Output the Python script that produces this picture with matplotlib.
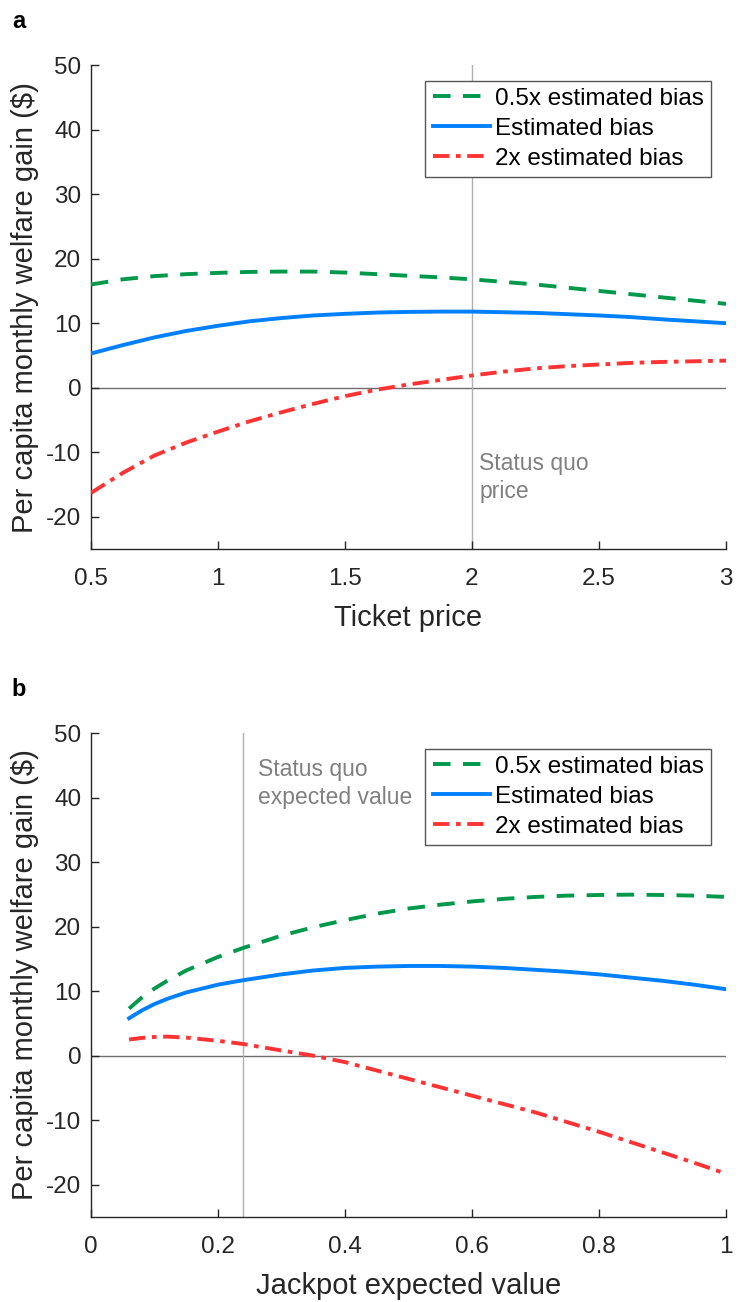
import matplotlib.pyplot as plt

plt.rcParams['font.family'] = ['Liberation Sans', 'DejaVu Sans']
plt.rcParams['axes.unicode_minus'] = False

# painel a: preço do bilhete
preco = [0.5, 0.625, 0.75, 0.875, 1.0, 1.125, 1.25, 1.375, 1.5, 1.625, 1.75, 1.875, 2.0,
         2.125, 2.25, 2.375, 2.5, 2.625, 2.75, 2.875, 3.0]
a_metade = [16.0, 16.8, 17.3, 17.6, 17.8, 17.95, 18.0, 18.0, 17.85, 17.6, 17.35, 17.1, 16.8,
            16.4, 16.0, 15.5, 15.0, 14.5, 14.0, 13.5, 13.0]
a_estimado = [5.3, 6.6, 7.8, 8.8, 9.6, 10.3, 10.8, 11.2, 11.45, 11.65, 11.75, 11.8, 11.8,
              11.7, 11.6, 11.4, 11.2, 10.95, 10.6, 10.3, 10.0]
a_dobro = [-16.3, -13.2, -10.5, -8.5, -6.8, -5.2, -3.8, -2.5, -1.3, -0.3, 0.5, 1.2, 1.9,
           2.5, 3.0, 3.35, 3.6, 3.85, 4.0, 4.1, 4.2]

# painel b: valor esperado do jackpot
jackpot = [0.06, 0.08, 0.1, 0.12, 0.15, 0.2, 0.24, 0.3, 0.35, 0.4, 0.45, 0.5, 0.55, 0.6,
           0.65, 0.7, 0.75, 0.8, 0.85, 0.9, 0.95, 1.0]
b_metade = [7.3, 9.0, 10.4, 11.6, 13.2, 15.3, 16.7, 18.6, 19.9, 21.0, 22.0, 22.8, 23.4, 23.9,
            24.3, 24.6, 24.8, 24.9, 24.95, 24.9, 24.8, 24.6]
b_estimado = [5.8, 7.0, 8.0, 8.8, 9.8, 11.0, 11.7, 12.6, 13.2, 13.6, 13.8, 13.9, 13.9, 13.8,
              13.6, 13.3, 13.0, 12.6, 12.1, 11.6, 11.0, 10.3]
b_dobro = [2.5, 2.75, 2.9, 2.95, 2.8, 2.3, 1.8, 0.8, 0.0, -1.0, -2.3, -3.6, -4.9, -6.2,
           -7.5, -8.8, -10.3, -11.8, -13.4, -15.0, -16.6, -18.3]

legendas = ['0.5x estimated bias', 'Estimated bias', '2x estimated bias']
verde = '#00994C'
azul = '#0080FF'
vermelho = '#FF3333'
cinza = '#808080'
escuro = '#262626'


def desenhaPainel(ax, x, metade, estimado, dobro, xlim, xticks, xlabel, status_x):
    ax.axhline(0, color='#707070', lw=1.0, zorder=1)
    ax.axvline(status_x, color='#b0b0b0', lw=1.0, zorder=1)
    ax.plot(x, metade, color=verde, lw=2.8, ls=(0, (4.5, 3.2)), label=legendas[0], zorder=3)
    ax.plot(x, estimado, color=azul, lw=2.8, ls='-', label=legendas[1], zorder=3)
    ax.plot(x, dobro, color=vermelho, lw=2.8, ls=(0, (4.2, 1.7, 1.2, 1.7)), label=legendas[2], zorder=3)
    ax.set_xlim(xlim)
    ax.set_ylim(-25, 50)
    ax.set_xticks(xticks)
    ax.set_xticklabels([f'{t:g}' for t in xticks])
    ax.set_yticks([-20, -10, 0, 10, 20, 30, 40, 50])
    ax.spines['top'].set_visible(False)
    ax.spines['right'].set_visible(False)
    for s in ['left', 'bottom']:
        ax.spines[s].set_color(escuro)
        ax.spines[s].set_linewidth(1.0)
    ax.tick_params(direction='in', length=6, width=1.0, labelsize=17.5, colors=escuro)
    ax.tick_params(axis='x', pad=14)
    ax.tick_params(axis='y', pad=7)
    ax.set_xlabel(xlabel, fontsize=21, color=escuro, labelpad=10)
    ax.set_ylabel('Per capita monthly welfare gain ($)', fontsize=21, color=escuro, labelpad=5)
    leg = ax.legend(loc='upper right', bbox_to_anchor=(0.976, 0.968), fontsize=17.5,
                    handlelength=2.35, handletextpad=0.2, borderpad=0.3, labelspacing=0.33,
                    borderaxespad=0, fancybox=False, framealpha=1, edgecolor='#555555')
    leg.get_frame().set_linewidth(1.0)
    for t in leg.get_texts():
        t.set_color('black')


fig = plt.figure(figsize=(7.36, 13.02), dpi=100)
ax1 = fig.add_axes([0.1236, 0.5783, 0.8628, 0.3717])
ax2 = fig.add_axes([0.1236, 0.0653, 0.8628, 0.3717])

desenhaPainel(ax1, preco, a_metade, a_estimado, a_dobro, (0.5, 3),
              [0.5, 1, 1.5, 2, 2.5, 3], 'Ticket price', 2)
ax1.text(2.028, -13.9, 'Status quo\nprice', color=cinza, fontsize=16.5, va='center', ha='left',
         linespacing=1.3)

desenhaPainel(ax2, jackpot, b_metade, b_estimado, b_dobro, (0, 1),
              [0, 0.2, 0.4, 0.6, 0.8, 1], 'Jackpot expected value', 0.24)
ax2.text(0.263, 42.2, 'Status quo\nexpected value', color=cinza, fontsize=16.5, va='center',
         ha='left', linespacing=1.3)

fig.text(0.016, 0.992, 'a', fontsize=17, fontweight='bold', va='top')
fig.text(0.016, 0.479, 'b', fontsize=17, fontweight='bold', va='top')

fig.savefig('out.png', dpi=100)
